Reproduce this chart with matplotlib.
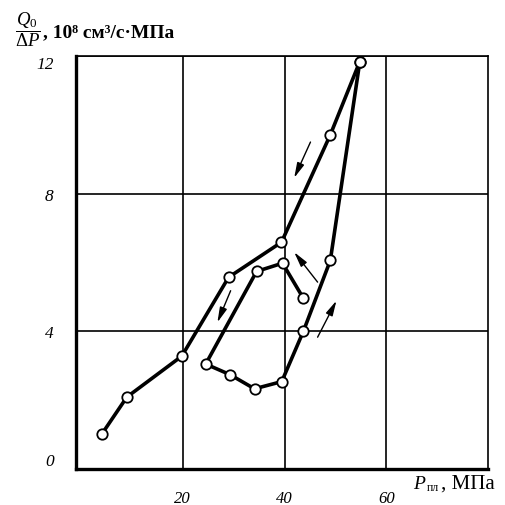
import matplotlib
matplotlib.use("Agg")
import matplotlib.pyplot as plt

plt.rcParams["font.family"] = ["Liberation Serif", "DejaVu Serif"]
plt.rcParams["mathtext.fontset"] = "custom"
plt.rcParams["mathtext.rm"] = "Liberation Serif"
plt.rcParams["mathtext.it"] = "Liberation Serif:italic"
plt.rcParams["mathtext.bf"] = "Liberation Serif:bold"

# upper branch (rising then returning from the top point)
upper_p = [4.1, 9.0, 19.8, 29.0, 39.4, 49.0, 54.8]
upper_q = [1.02, 2.09, 3.28, 5.57, 6.59, 9.71, 11.84]

# loop branch
loop_p = [54.8, 49.0, 43.7, 39.45, 34.1, 29.3, 24.5, 34.5, 39.6, 43.7]
loop_q = [11.84, 6.06, 4.00, 2.54, 2.33, 2.74, 3.05, 5.74, 5.98, 4.96]

# arrows: (tail_p, tail_q, tip_p, tip_q)
arrows = [
    (45.1, 9.50, 41.9, 8.46),
    (29.4, 5.18, 26.8, 4.26),
    (46.5, 5.43, 41.9, 6.30),
    (46.5, 3.83, 50.2, 4.89),
]

x_ticks = [20, 40, 60]
y_ticks = [0, 4, 8, 12]

fig = plt.figure(figsize=(5.06, 5.06), dpi=100)
ax = fig.add_axes([76 / 506, 1 - 470 / 506, 412 / 506, 413 / 506])

for p, q in [(upper_p, upper_q), (loop_p, loop_q)]:
    ax.plot(p, q, color="black", lw=2.6, zorder=3,
            marker="o", ms=7.5, mfc="white", mec="black", mew=1.3)

for tp, tq, hp, hq in arrows:
    ax.annotate("", xy=(hp, hq), xytext=(tp, tq),
                arrowprops=dict(arrowstyle="-|>,head_length=0.9,head_width=0.22",
                                color="black", lw=1.0, shrinkA=0, shrinkB=0),
                zorder=4)

ax.set_xlim(-1, 80)
ax.set_ylim(0, 12)
ax.set_xticks(x_ticks)
ax.set_yticks(y_ticks)
ax.set_xticklabels([str(v) for v in x_ticks], style="italic", fontsize=12)
ax.set_yticklabels([str(v) for v in y_ticks], style="italic", fontsize=12.5)
ax.tick_params(length=0, pad=15)
ax.tick_params(axis="y", pad=16)
ylabs = ax.get_yticklabels()
ylabs[0].set_va("bottom")
ylabs[-1].set_va("top")
ax.grid(True, color="black", lw=1.2)
ax.set_axisbelow(True)
for side in ["left", "bottom"]:
    ax.spines[side].set_linewidth(2.4)
for side in ["top", "right"]:
    ax.spines[side].set_linewidth(1.2)

# y-axis title: fraction + units
fig.text(28 / 506, 1 - 30 / 506, r"$\dfrac{Q_0}{\Delta P}$",
         fontsize=13.5, va="center", ha="center")
fig.text(43 / 506, 1 - 37 / 506, ", 10⁸ см³/с·МПа",
         fontsize=14, fontweight="bold", va="baseline", ha="left")

# x-axis title
fig.text(413 / 506, 1 - 489 / 506, "P", style="italic",
         fontsize=14, va="baseline", ha="left")
fig.text(427 / 506, 1 - 491 / 506, "пл",
         fontsize=8.5, va="baseline", ha="left")
fig.text(441 / 506, 1 - 489 / 506, ", МПа",
         fontsize=15, va="baseline", ha="left")

fig.savefig("out.png", dpi=100)
